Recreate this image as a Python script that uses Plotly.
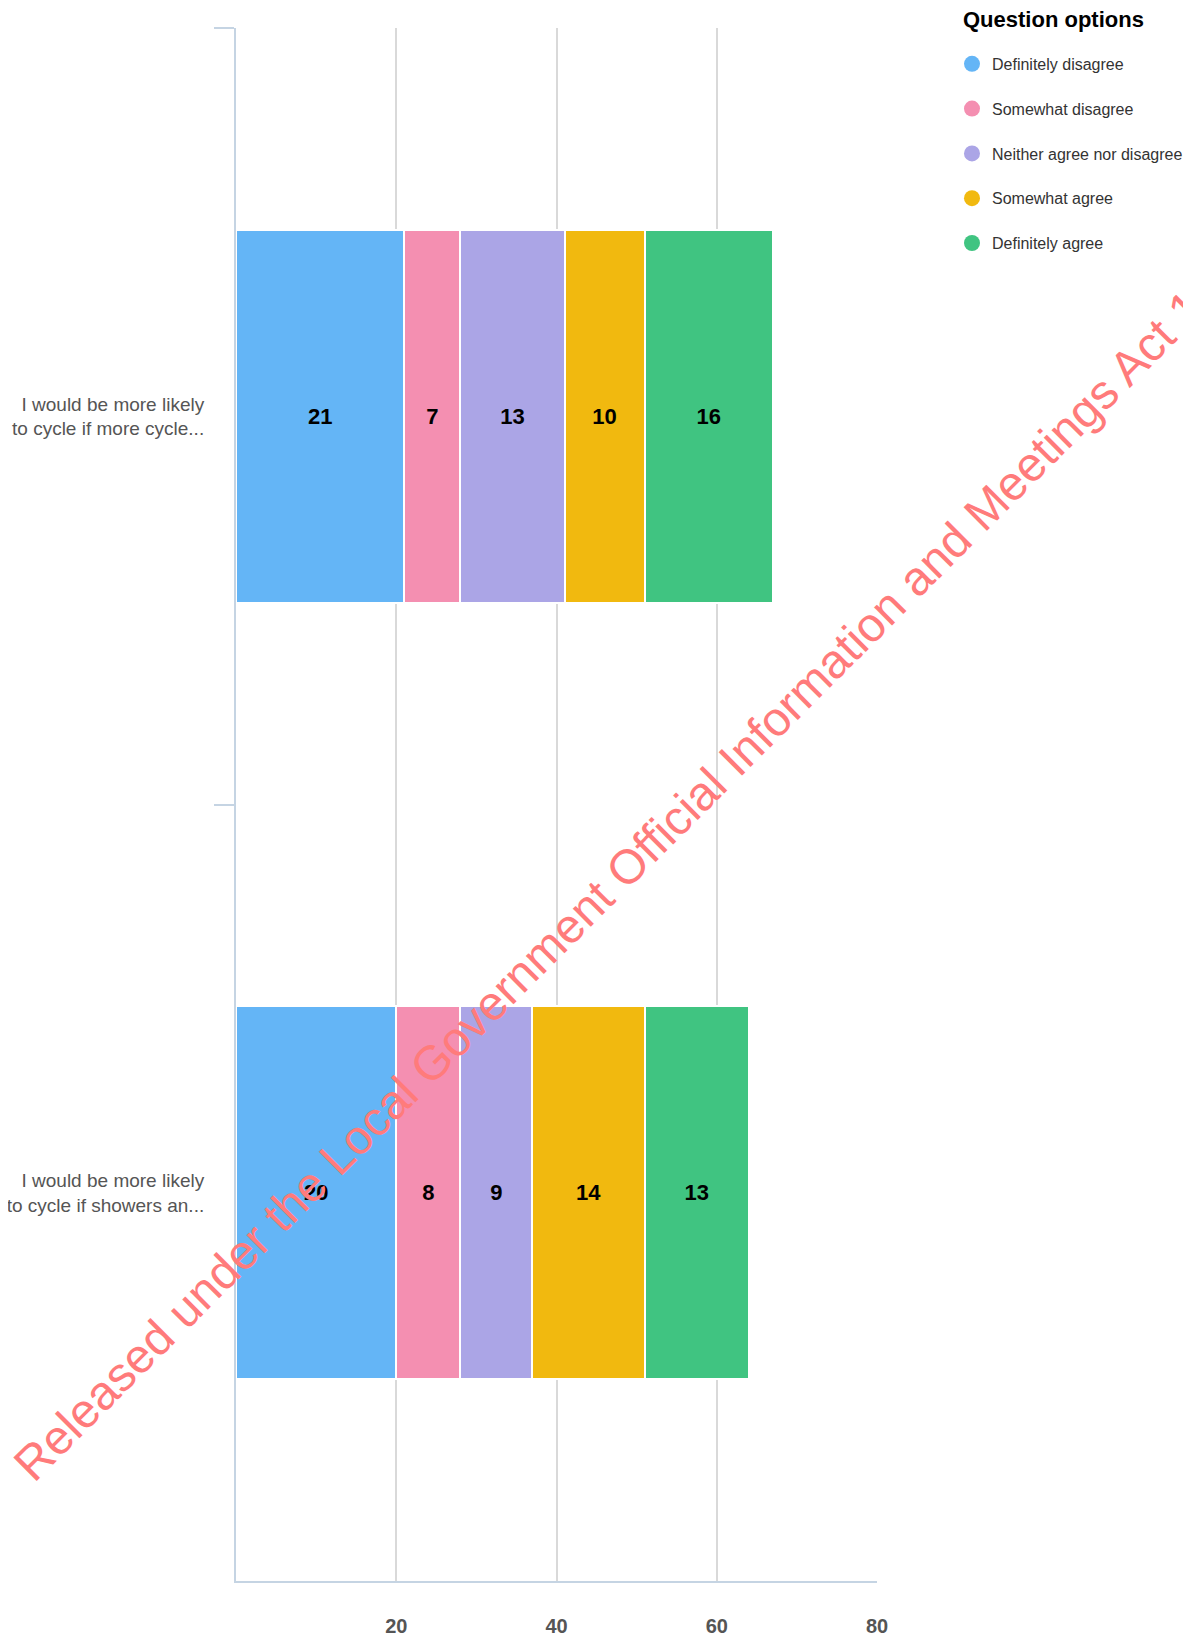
import plotly.graph_objects as go

categories = [
    "I would be more likely<br>to cycle if more cycle...",
    "I would be more likely<br>to cycle if showers an...",
]
series_names = [
    "Definitely disagree",
    "Somewhat disagree",
    "Neither agree nor disagree",
    "Somewhat agree",
    "Definitely agree",
]
definitely_disagree = [21, 20]
somewhat_disagree = [7, 8]
neither = [13, 9]
somewhat_agree = [10, 14]
definitely_agree = [16, 13]
x_ticks = [20, 40, 60, 80]
legend_title = "Question options"
watermark = "Released under the Local Government Official Information and Meetings Act 1987"

values = [definitely_disagree, somewhat_disagree, neither, somewhat_agree, definitely_agree]
colors = ["#64b5f6", "#f48fb1", "#aba5e6", "#f1b90f", "#40c481"]
FONT = "Liberation Sans, Arial, Helvetica, sans-serif"

fig = go.Figure()
for name, vals, col in zip(series_names, values, colors):
    fig.add_trace(go.Bar(
        y=categories, x=vals, name=name, orientation="h",
        marker=dict(color=col, line=dict(color="white", width=2)),
        text=[str(v) for v in vals], textposition="inside",
        insidetextanchor="middle", constraintext="none",
        textfont=dict(family=FONT, size=22, color="black", weight="bold"),
        showlegend=False, hoverinfo="x+name",
    ))
for i, (name, col) in enumerate(zip(series_names, colors)):
    fig.add_trace(go.Scatter(
        x=[None], y=[None], mode="markers", name=name,
        marker=dict(color=col, size=20, symbol="circle"),
        legendgroup=f"g{i}", showlegend=True,
    ))

axis_col = "#c5d4e3"
W, H = 1183, 1634
fig.update_layout(
    width=W, height=H,
    margin=dict(l=228, r=314, t=20, b=61, autoexpand=False),
    barmode="stack", bargap=0.52,
    plot_bgcolor="white", paper_bgcolor="white",
    font=dict(family=FONT),
    legend=dict(
        x=1.117, xanchor="left", y=0.9762, yanchor="top", yref="container",
        font=dict(family=FONT, size=16, color="#333333"),
        tracegroupgap=21, traceorder="grouped",
    ),
    xaxis=dict(
        range=[0, 80], tickvals=x_ticks, showgrid=True, gridcolor="#d9d9d9", gridwidth=2,
        showline=True, linecolor=axis_col, linewidth=2, zeroline=False,
        ticks="", ticklabelstandoff=26, automargin=False,
        tickfont=dict(family=FONT, size=20, color="#555555", weight="bold"),
    ),
    yaxis=dict(
        type="category", categoryorder="array", categoryarray=categories,
        autorange="reversed", tickson="boundaries", ticks="outside", ticklen=20,
        tickwidth=2, tickcolor=axis_col, showline=True, linecolor=axis_col, linewidth=2,
        showgrid=False, zeroline=False, ticklabelstandoff=26, automargin=False,
        tickfont=dict(family=FONT, size=19, color="#555555"),
    ),
    annotations=[
        dict(
            text=watermark, xref="paper", yref="paper", x=0.6256, y=0.4656,
            xanchor="center", yanchor="middle", textangle=-45, showarrow=False,
            font=dict(family=FONT, size=48, color="#ff7b7b"),
        ),
        dict(
            text=legend_title, xref="paper", yref="paper",
            x=(953 - 228) / 641, y=1.0052, xanchor="left", yanchor="middle",
            showarrow=False,
            font=dict(family=FONT, size=22, color="black", weight="bold"),
        ),
    ],
)

fig.write_html("out.html")
